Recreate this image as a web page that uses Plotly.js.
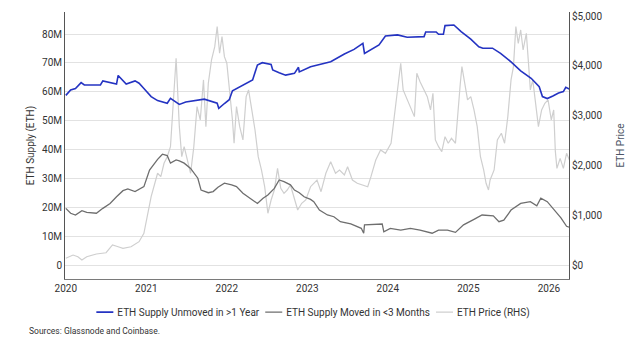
<!DOCTYPE html>
<html>
<head>
<meta charset="utf-8">
<script src="https://cdn.plot.ly/plotly-3.0.1.min.js"></script>
<style>html,body{margin:0;padding:0;background:#fff;}#chart{width:631px;height:350px;}</style>
</head>
<body>
<div id="chart"></div>
<script>
// ---- Data (x in decimal years) ----
const unmovedT = [2020.00,2020.06,2020.12,2020.19,2020.23,2020.31,2020.43,2020.46,2020.56,2020.63,2020.65,2020.70,2020.75,2020.86,2020.91,2020.97,2021.06,2021.14,2021.26,2021.30,2021.37,2021.41,2021.49,2021.59,2021.72,2021.88,2021.90,2021.97,2022.03,2022.07,2022.19,2022.32,2022.38,2022.44,2022.55,2022.57,2022.65,2022.73,2022.84,2022.89,2022.90,2022.96,2023.04,2023.29,2023.46,2023.58,2023.69,2023.71,2023.79,2023.89,2023.97,2024.12,2024.24,2024.45,2024.47,2024.60,2024.63,2024.69,2024.71,2024.82,2024.91,2025.03,2025.13,2025.18,2025.30,2025.40,2025.53,2025.65,2025.78,2025.88,2025.92,2025.98,2026.05,2026.12,2026.18,2026.21,2026.26];
const unmovedM = [58.8,60.7,61.2,63.2,62.4,62.3,62.4,63.8,63.2,62.7,65.7,64.1,62.7,63.8,63.0,61.2,58.4,57.0,56.1,57.8,56.6,55.7,56.5,57.0,57.5,56.1,54.3,56.0,57.3,60.4,62.1,64.1,69.3,70.1,69.5,67.6,66.6,65.8,66.4,68.5,66.9,67.6,68.7,70.4,73.1,74.7,76.8,73.3,74.5,76.2,79.3,79.7,78.9,79.1,80.7,80.7,79.9,79.9,82.9,83.1,80.8,78.2,75.6,75.1,75.1,73.3,70.4,67.3,64.7,61.8,58.4,57.7,58.6,59.6,60.1,61.6,60.9];

const movedT = [2020.00,2020.06,2020.12,2020.20,2020.26,2020.38,2020.46,2020.55,2020.63,2020.71,2020.77,2020.86,2020.97,2021.04,2021.14,2021.20,2021.26,2021.30,2021.37,2021.41,2021.47,2021.55,2021.64,2021.68,2021.77,2021.83,2021.89,2021.97,2022.06,2022.12,2022.20,2022.32,2022.38,2022.45,2022.51,2022.59,2022.65,2022.71,2022.79,2022.84,2022.90,2022.96,2023.04,2023.08,2023.15,2023.25,2023.33,2023.41,2023.54,2023.67,2023.70,2023.71,2023.83,2023.93,2023.95,2024.03,2024.16,2024.28,2024.40,2024.55,2024.63,2024.74,2024.84,2024.94,2025.07,2025.17,2025.31,2025.38,2025.44,2025.53,2025.65,2025.77,2025.85,2025.90,2025.98,2026.09,2026.15,2026.22,2026.26];
const movedM = [19.8,18.1,17.5,19.0,18.4,18.1,19.8,21.5,23.8,25.9,26.5,25.6,27.3,33.0,36.7,38.5,38.0,35.4,36.5,36.2,35.4,33.6,30.2,26.1,25.2,25.6,27.1,28.5,27.9,27.3,25.0,22.7,21.5,23.3,24.4,26.7,29.6,29.0,27.9,26.1,25.2,23.8,22.9,22.1,19.2,17.5,16.9,15.2,14.4,12.9,11.2,14.1,14.4,14.4,11.7,12.9,12.3,12.9,12.3,11.2,12.3,12.3,11.5,14.1,16.0,17.5,17.2,15.2,15.7,19.2,21.5,22.1,20.7,23.3,22.1,18.6,16.5,13.6,13.2];

const priceT = [2020.00,2020.09,2020.15,2020.20,2020.26,2020.38,2020.50,2020.58,2020.65,2020.71,2020.81,2020.91,2020.97,2021.02,2021.06,2021.14,2021.18,2021.22,2021.26,2021.30,2021.33,2021.37,2021.41,2021.44,2021.47,2021.51,2021.55,2021.59,2021.63,2021.67,2021.71,2021.74,2021.77,2021.81,2021.85,2021.88,2021.91,2021.94,2021.97,2022.00,2022.04,2022.07,2022.09,2022.12,2022.16,2022.20,2022.24,2022.27,2022.31,2022.35,2022.39,2022.43,2022.47,2022.51,2022.55,2022.59,2022.63,2022.67,2022.71,2022.75,2022.79,2022.84,2022.88,2022.93,2022.98,2023.04,2023.12,2023.17,2023.23,2023.29,2023.35,2023.40,2023.46,2023.50,2023.56,2023.62,2023.68,2023.75,2023.79,2023.85,2023.91,2023.97,2024.04,2024.08,2024.12,2024.16,2024.19,2024.24,2024.29,2024.33,2024.36,2024.40,2024.45,2024.49,2024.53,2024.56,2024.59,2024.63,2024.67,2024.71,2024.75,2024.79,2024.84,2024.87,2024.90,2024.92,2024.95,2024.99,2025.03,2025.07,2025.11,2025.15,2025.19,2025.22,2025.25,2025.27,2025.32,2025.36,2025.41,2025.45,2025.49,2025.53,2025.56,2025.59,2025.62,2025.65,2025.68,2025.72,2025.75,2025.77,2025.80,2025.84,2025.87,2025.91,2025.95,2025.99,2026.03,2026.06,2026.08,2026.10,2026.14,2026.18,2026.22,2026.26];
const priceUSD = [148,214,180,114,180,234,260,415,380,349,380,481,649,1050,1382,1851,1783,2051,2183,2383,3119,4154,2784,2183,2383,2117,1851,2383,3185,2918,3720,2784,3653,4120,4386,4787,4254,4587,4186,4054,3453,2918,2452,3185,2784,2518,3385,3519,3119,2718,2183,1917,1582,1050,1316,1516,1950,1550,1450,1516,1616,1350,1116,1250,1316,1582,1716,1482,1851,2083,1851,1917,1817,1983,1716,1650,1616,1582,1783,2117,2318,2251,2452,2985,3585,4054,3519,3319,3119,2985,3853,3685,3519,3385,3119,3453,2518,2383,2283,2584,2452,2551,2452,3119,3653,3986,3720,3319,3385,3119,2784,2183,1917,1650,1516,1716,1917,2518,2652,2452,2985,3720,3986,4787,4453,4720,4320,4654,3986,3519,3720,3119,2784,3119,3252,3319,2918,3119,2300,1950,2150,1950,2250,2100];

const yearTicks = [2020,2021,2022,2023,2024,2025,2026];
const yearLabels = ['2020','2021','2022','2023','2024','2025','2026'];
const supplyTicks = [0,10,20,30,40,50,60,70,80];
const supplyLabels = ['0','10M','20M','30M','40M','50M','60M','70M','80M'];
const priceTicks = [0,1000,2000,3000,4000,5000];
const priceLabels = ['$0','$1,000','$2,000','$3,000','$4,000','$5,000'];

const seriesNames = ['ETH Supply Unmoved in >1 Year','ETH Supply Moved in <3 Months','ETH Price (RHS)'];

const FONT = 'Roboto, "Liberation Sans", Arial, sans-serif';
const TXT = '#333333';

const traces = [
  {x: priceT, y: priceUSD, type:'scatter', mode:'lines', name: seriesNames[2], yaxis:'y',
   line:{color:'#cfcfcf', width:1.2}, legendrank:3, hoverinfo:'skip'},
  {x: movedT, y: movedM, type:'scatter', mode:'lines', name: seriesNames[1], yaxis:'y2',
   line:{color:'#6e6e6e', width:1.3}, legendrank:2},
  {x: unmovedT, y: unmovedM, type:'scatter', mode:'lines', name: seriesNames[0], yaxis:'y2',
   line:{color:'#2433c2', width:1.6}, legendrank:1}
];

const layout = {
  width:631, height:350,
  margin:{l:65, r:62, t:12, b:71},
  paper_bgcolor:'#ffffff', plot_bgcolor:'#ffffff',
  font:{family:FONT, size:10, color:TXT},
  showlegend:true,
  legend:{orientation:'h', x:0.5, xanchor:'center', y:-0.124, yanchor:'middle',
          font:{family:FONT, size:10, color:TXT}, bgcolor:'rgba(0,0,0,0)'},
  xaxis:{range:[2019.99, 2026.25], tickvals:yearTicks, ticktext:yearLabels,
         showgrid:false, zeroline:false, showline:true, linecolor:'#7a7a7a', linewidth:1,
         ticks:'', tickfont:{family:FONT, size:10, color:TXT}},
  yaxis:{side:'right', range:[-266, 5080], tickvals:priceTicks, ticktext:priceLabels,
         showgrid:false, zeroline:false, showline:true, linecolor:'#555555', linewidth:1,
         ticks:'', tickfont:{family:FONT, size:10, color:TXT},
         title:{text:'ETH Price', font:{family:FONT, size:10, color:'#4d5566'}, standoff:15}},
  yaxis2:{overlaying:'y', side:'left', range:[-4.6, 87.6], tickvals:supplyTicks, ticktext:supplyLabels,
          showgrid:true, gridcolor:'#e2e2e2', gridwidth:1, zeroline:false,
          showline:true, linecolor:'#555555', linewidth:1,
          ticks:'', tickfont:{family:FONT, size:10, color:TXT},
          title:{text:'ETH Supply (ETH)', font:{family:FONT, size:10, color:TXT}, standoff:5}},
  annotations:[{text:'Sources: Glassnode and Coinbase.', xref:'paper', yref:'paper',
                x:-0.0754, y:-0.195, xanchor:'left', yanchor:'middle', showarrow:false,
                font:{family:FONT, size:8.5, color:TXT}}]
};

// Compact legend entries (short line swatches, tight spacing) like the reference
function compactLegend(gd) {
  const legend = gd.querySelector('g.legend');
  if (!legend) return;
  const items = Array.from(legend.querySelectorAll('g.traces'));
  const SW = 17, GAP_TEXT = 4, GAP_ITEM = 6;
  const widths = [];
  items.forEach(g => {
    g.querySelectorAll('path').forEach(p => {
      const d = p.getAttribute('d') || '';
      if (/^M[-\d.]+,[-\d.]+h[-\d.]+$/.test(d.trim())) p.setAttribute('d', 'M0,0h' + SW);
    });
    const t = g.querySelector('text.legendtext');
    t.setAttribute('x', SW + GAP_TEXT);
    widths.push(SW + GAP_TEXT + t.getComputedTextLength());
  });
  const total = widths.reduce((a, b) => a + b, 0) + GAP_ITEM * (widths.length - 1);
  const m = /translate\(([-\d.]+)[ ,]+([-\d.]+)\)/.exec(legend.getAttribute('transform') || '');
  const lx = m ? parseFloat(m[1]) : 0;
  const fl = gd._fullLayout;
  const center = fl._size.l + fl._size.w * 0.5 - 4;
  let x = center - total / 2 - lx;
  items.forEach((g, i) => {
    const mm = /translate\(([-\d.]+)[ ,]+([-\d.]+)\)/.exec(g.getAttribute('transform') || '');
    const y = mm ? parseFloat(mm[2]) : 0;
    g.setAttribute('transform', 'translate(' + x + ',' + y + ')');
    x += widths[i] + GAP_ITEM;
  });
}

Plotly.newPlot('chart', traces, layout, {displayModeBar:false, staticPlot:true}).then(compactLegend);
</script>
</body>
</html>
